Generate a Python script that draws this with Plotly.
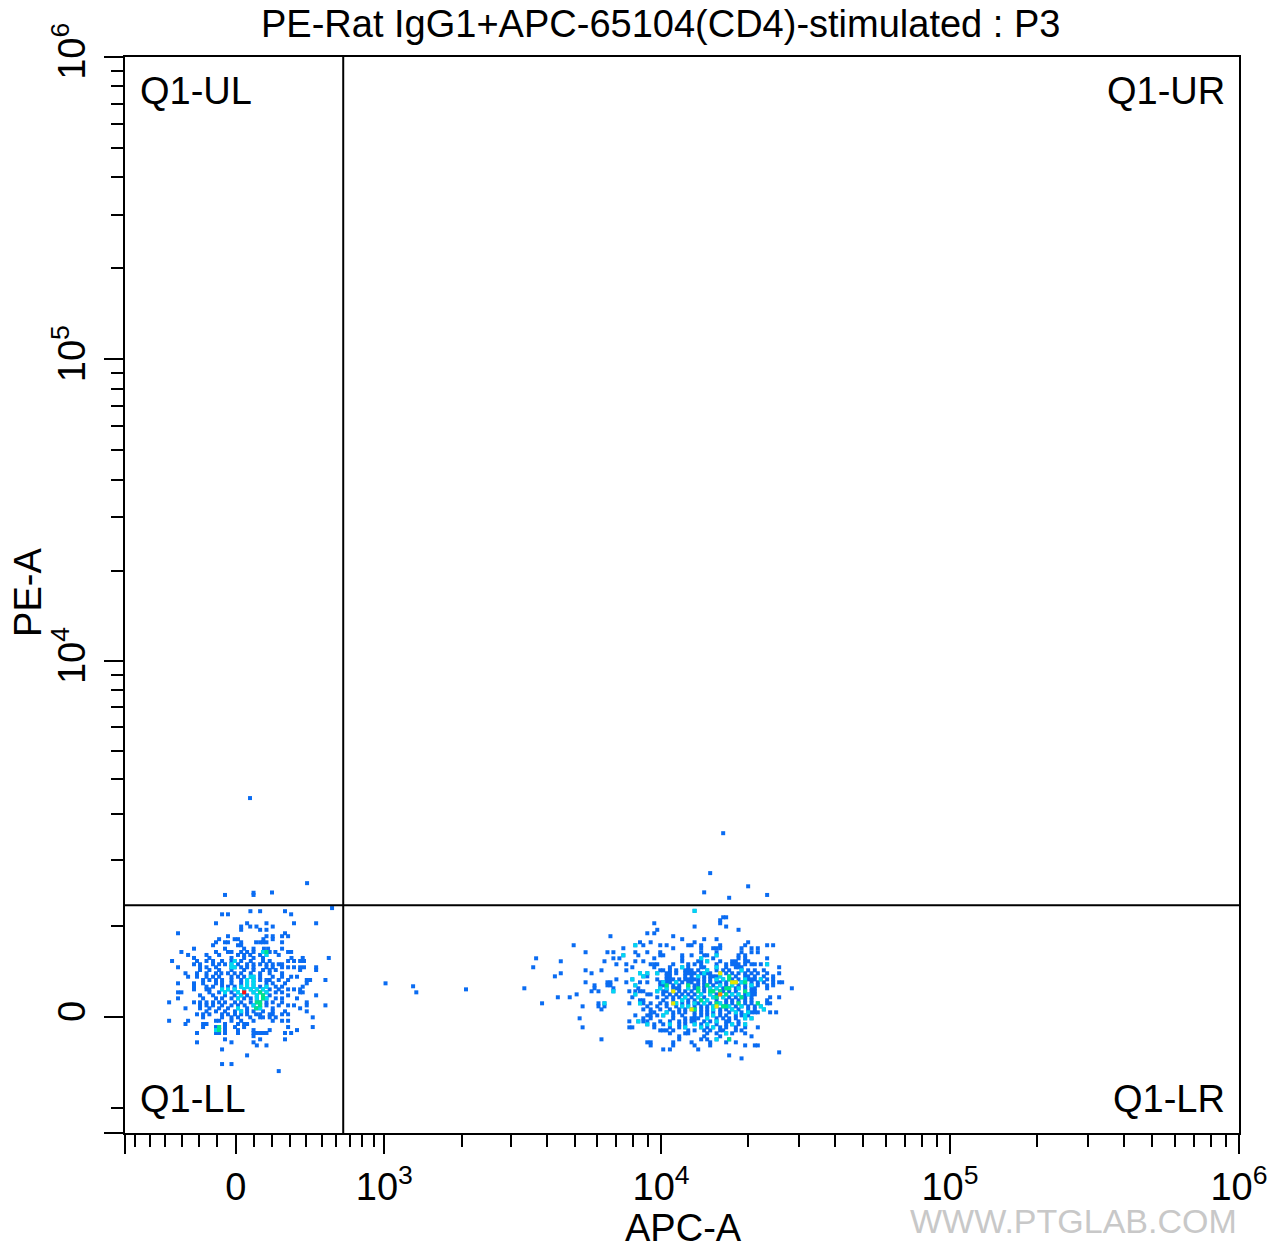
import numpy as np
import plotly.graph_objects as go

# ---------------- display scale (biexponential-like, arcsinh) ----------------
X_W = 676.0
Y_W = 1337.0


def tx(v):
    return np.arcsinh(np.asarray(v, dtype=float) / X_W)


def ty(v):
    return np.arcsinh(np.asarray(v, dtype=float) / Y_W)


X_MIN, X_MAX = -677, 1e6
Y_MIN, Y_MAX = -1340, 1e6
GATE_APC = 652
GATE_PE = 1282

title_text = "PE-Rat IgG1+APC-65104(CD4)-stimulated : P3"
x_title = "APC-A"
y_title = "PE-A"
quad_labels = ["Q1-UL", "Q1-UR", "Q1-LL", "Q1-LR"]

x_major_vals = [0, 1e3, 1e4, 1e5, 1e6]
x_major_text = ["0", "10<sup>3</sup>", "10<sup>4</sup>", "10<sup>5</sup>", "10<sup>6</sup>"]
y_major_vals = [0, 1e4, 1e5, 1e6]
y_major_text = ["0", "10<sup>4</sup>", "10<sup>5</sup>", "10<sup>6</sup>"]
x_minor_vals = ([-600, -500, -400, -300, -200, -100, 100, 200, 300, 400, 500, 600, 700, 800, 900]
                + [m * 10 ** e for e in (3, 4, 5) for m in range(2, 10)])
y_minor_vals = [-1000] + [m * 10 ** e for e in (3, 4, 5) for m in range(1 if e == 3 else 2, 10)]

# ---------------- events: Q1-UL / Q1-UR ----------------
ul_apc = [405, -58, 96, 96, 198, 77]
ul_pe = [1612, 1430, 1463, 1430, 1467, 3416]
ur_apc = [16411, 14795, 20026, 14103, 17212, 23296]
ur_pe = [2546, 1777, 1562, 1469, 1388, 1430]

# ---------------- events between the two populations ----------------
mid_apc = [1012, 1306, 1344, 2062]
mid_pe = [347, 316, 253, 284]

# ---------------- Q1-LL population (rows of PE-A, APC-A values per row) ----------------
ll_pe = [1241, 1198, 1156, 1038, 996, 955, 912, 876, 840, 803, 768, 728, 690, 656, 622, 588,
         552, 519, 489, 454, 417, 382, 347, 312, 284, 253, 222, 191, 150, 119, 89, 58, 28, -3,
         -38, -71, -102, -133, -163, -195, -228, -259, -291, -333, -396, -489, -566]
ll_apc = [
    [571],
    [79, 132, 272],
    [-74, -42, 308],
    [-107, 61, 167, 325, 463],
    [29, 78, 112, 202],
    [29, 132, 167],
    [-322, 272],
    [-42, 167, 202, 255, 290],
    [-90, -6, 12, 150, 202],
    [-107, -58, -42, 29, 110, 132, 148, 167, 255],
    [-123, 12, 29],
    [-229, -58, 45, 96, 153, 176, 255],
    [-302, -107, -42, -23, 29, 61, 96, 148, 167, 185, 217, 290, 308],
    [-263, -159, -90, 12, 45, 78, 132, 167, 236],
    [-229, -143, -23, 45, 96, 148, 310, 378, 548],
    [-358, -212, -159, -123, -74, -23, -6, 29, 81, 148, 185, 290, 325, 362, 386],
    [-229, -195, -123, -90, -58, -23, 12, 61, 96, 132, 167, 202, 236, 255],
    [-322, -195, -159, -107, -23, -6, 29, 61, 96, 167, 202, 255, 290, 325, 362, 386, 463],
    [-195, -143, -90, -23, 45, 96, 148, 185, 219, 362, 463],
    [-278, -212, -159, -107, -78, -42, -6, 29, 81, 132, 185, 255],
    [-263, -212, -159, -123, -90, -23, 12, 45, 81, 96, 132, 202, 255, 308, 343],
    [-178, -143, -107, -74, -23, 29, 61, 96, 132, 167, 185, 236, 290, 403, 424, 525],
    [-322, -229, -178, -107, -74, -23, 29, 61, 96, 167, 202, 272, 403],
    [-229, -159, -123, -74, -42, -6, 29, 61, 96, 132, 167, 219, 255, 378],
    [-229, -159, -143, -74, -42, -6, 45, 81, 114, 148, 185, 236, 290, 325, 362],
    [-322, -302, -143, -90, -58, -23, 12, 45, 96, 132, 167, 219, 255, 362, 378],
    [-195, -123, -58, -6, 29, 61, 114, 148, 185, 290, 463],
    [-322, -178, -107, -74, -23, 12, 45, 81, 114, 148, 167, 219, 255, 343],
    [-376, -229, -195, -159, -123, -90, -58, -4, 29, 81, 114, 132, 167, 202, 255, 403],
    [-195, -159, -123, -74, -23, 12, 48, 96, 132, 167, 236, 290, 325, 403, 525],
    [-278, -195, -143, -90, -42, 12, 61, 110, 132, 202, 362],
    [-159, -107, -58, -4, 29, 61, 96, 148, 202, 272, 403],
    [-212, -178, -143, -74, -42, -4, 29, 61, 110, 132, 185, 202, 255, 290],
    [-178, -74, -23, 12, 78, 132, 148, 185, 219, 441],
    [-376, -263, -107, -90, -23, 29, 96, 202, 255, 290],
    [-278, -178, -159, -58, 12, 45, 61],
    [-178, -107, -90, -58, -4, 45, 290, 441],
    [-107, -90, -58, 12, 96, 185, 343],
    [-212, -107, -90, -58, 12, 96, 114, 132, 148, 167, 272, 308],
    [96],
    [-58, 132, 272],
    [-212, -23, 96],
    [114, 167],
    [-74],
    [61],
    [-74, -23],
    [236],
]
ll_red_apc = [45]
ll_red_pe = [253]

# ---------------- Q1-LR population ----------------
lr_pe = [1203, 1116, 1077, 1038, 996, 955, 912, 876, 840, 803, 768, 733, 687, 652, 618, 585,
         552, 519, 486, 454, 421, 389, 358, 326, 295, 264, 232, 202, 171, 140, 109, 78, 48, 17,
         -13, -44, -74, -105, -136, -166, -197, -228, -259, -291, -333, -364, -396, -428]
lr_apc = [
    [13065],
    [16411, 16805],
    [16022],
    [9470, 16022],
    [13065, 16805],
    [9699, 18548],
    [8957, 9470],
    [6670, 11015],
    [11835, 14103, 15568],
    [8450, 9201, 13065, 20026],
    [4966, 8140, 8677, 9933, 10452, 12417, 12756, 13769, 16022, 19553, 23296, 24438],
    [7396, 11015, 13769, 15153, 15568, 16022, 18998, 20573, 21632],
    [5465, 6512, 6830, 8140, 8957, 9933, 13769, 15568, 18998, 20573, 21632],
    [7396, 8336, 9933, 10172, 11835, 12756, 14103, 14445, 15568, 18548, 19553],
    [3668, 6830, 7166, 9470, 11835, 13769, 15153, 18548, 19553, 23296],
    [4477, 6359, 8140, 8677, 11835, 13446, 13769, 14445, 16022, 17629, 18155, 19553, 20026],
    [6996, 7575, 9201, 9470, 9699, 11015, 12417, 13065, 13769, 15568, 16805, 17629, 18155,
     18548, 19553, 20573, 21120, 22156, 23296],
    [3583, 7947, 9470, 10730, 11835, 12417, 13769, 14103, 15568, 16805, 18155, 18548, 18998, 25640],
    [5465, 6208, 7575, 9933, 10172, 10730, 11282, 12122, 12417, 12756, 13446, 14445, 15568,
     16411, 17212, 18998, 20026, 21120, 22692],
    [4477, 5733, 8450, 8957, 9699, 10452, 10730, 11282, 12122, 12417, 12756, 13065, 13769,
     14103, 14445, 14795, 16022, 16805, 17629, 18548, 19553, 20573, 21632, 23296, 25640],
    [4269, 8677, 8957, 10452, 10730, 12122, 12756, 13446, 14103, 14795, 15153, 15568, 16022,
     17212, 18155, 19553, 20026, 21120, 22692, 24438],
    [6996, 7947, 9699, 10452, 10730, 11015, 11555, 12122, 12417, 12756, 13065, 13446, 14103,
     14795, 15568, 16411, 17212, 17629, 18548, 19553, 20026, 20573, 21120, 22156, 23296, 24438],
    [5465, 6512, 6670, 7575, 8450, 8957, 9933, 10172, 10452, 10730, 11282, 11835, 12417, 12756,
     13446, 14103, 14795, 15568, 16022, 16805, 17629, 18155, 18998, 19553, 20573, 21632, 22692,
     24438, 25640, 26260],
    [5872, 6512, 6670, 8140, 9933, 10172, 10452, 11015, 11555, 12417, 13065, 13446, 14103,
     14445, 15153, 16022, 16805, 17629, 18548, 19553, 20573, 21632, 23296, 24438],
    [3334, 5872, 6830, 8336, 9933, 10452, 11015, 11282, 11555, 12417, 13065, 13446, 14103,
     14795, 15568, 16411, 16805, 17212, 18155, 18548, 19553, 20573, 21120, 23296, 28367],
    [5733, 6061, 6830, 7759, 8140, 8450, 8677, 9699, 10172, 10452, 11015, 11555, 12122, 12756,
     13446, 14103, 14795, 15153, 16022, 16411, 17212, 18155, 19553, 20573, 21120],
    [5086, 8140, 8957, 9201, 10172, 10730, 11282, 11835, 12417, 13065, 13769, 14795, 15568,
     16022, 16805, 17629, 18548, 19553, 20026, 20573, 21120],
    [4372, 4811, 7947, 9699, 10452, 11015, 11555, 12122, 12756, 13446, 14103, 15153, 15568,
     16411, 17212, 18155, 18998, 19553, 20573, 23860, 25640],
    [8450, 8677, 10172, 11015, 11835, 12417, 13065, 13769, 14445, 15568, 16805, 17629, 18548,
     19553, 20573, 23296],
    [3849, 6061, 6359, 7759, 8450, 8677, 9201, 9933, 10452, 11015, 11282, 11835, 12417, 13065,
     13446, 14103, 14795, 15568, 16022, 16805, 17629, 18548, 19553, 20573, 21632, 23296, 23860],
    [5336, 6061, 6359, 8957, 9699, 10452, 11282, 11835, 12417, 13065, 13769, 14445, 15153,
     15568, 16411, 16805, 17212, 18155, 18998, 20026, 21120, 22156],
    [6208, 8677, 9201, 9933, 10730, 11555, 12122, 12756, 13065, 13769, 14445, 15153, 16022,
     16805, 17629, 18548, 20026, 21120, 22692],
    [9201, 9470, 10452, 11015, 11555, 12122, 13065, 13769, 14445, 15153, 16022, 17212, 18155,
     18998, 20026, 20573, 21120, 21632, 23860, 25030],
    [8140, 8957, 9201, 9699, 10172, 11015, 11835, 13065, 13769, 14445, 15153, 16022, 16805,
     18155, 18998, 19553, 20026],
    [5210, 8677, 9201, 11015, 12122, 12756, 13065, 13446, 14445, 15568, 16411, 17212, 18155,
     19553, 20573],
    [7759, 8336, 8677, 8957, 9933, 10730, 11555, 12122, 12756, 13065, 14103, 14795, 15568,
     16805, 17212, 18548],
    [8957, 9470, 10172, 10730, 11555, 12122, 13065, 13769, 14445, 15568, 16805, 17629, 18548, 19553],
    [5336, 7759, 7947, 9470, 10730, 11555, 12122, 13769, 14445, 15153, 16022, 16805, 18155,
     19553, 21632],
    [9933, 10172, 10452, 11015, 12417, 13065, 14103, 14795, 16022, 16411, 18155, 18998],
    [10730, 12122, 12417, 14445, 15568, 16805, 17629, 19553],
    [11555, 14103, 16022, 20573],
    [6208, 11555, 13769, 14445, 15568, 17212],
    [8957, 9201, 11015, 12756, 14795, 16805, 18155],
    [9201, 11015, 13065, 14795, 19553, 21120, 21632],
    [10172, 10730, 13446],
    [25640],
    [17212],
    [18998],
]

# ---------------- Q1-LR events by density level (pseudocolour) ----------------
lr_cyan_apc = [13065, 15568, 13769, 14445, 23296, 11835, 15568, 14445, 18998,
               8450, 8957, 9699, 14103, 8677, 13446, 16022,
               15568, 16411, 19553, 22156, 10172, 11282, 18998,
               16022, 17629, 20573, 9933, 10452, 12417, 14795, 15568, 18548,
               9699, 13769, 14795, 17629, 18548, 20026,
               12122, 13446, 15153, 16411, 11835, 14445,
               8450, 11282, 13065, 14103, 16022,
               11835, 12417, 15153, 17212, 18998, 22156,
               15153, 17629, 22692, 10452, 18155, 20026,
               10172, 15153, 19553, 14445, 19553, 20573, 15568,
               8957, 10730, 13065, 14445, 17629, 19553,
               12122, 13769, 15153, 16805, 15568,
               8140, 7396, 7947, 8140, 6830, 8140, 6359, 8336]
lr_cyan_pe = [1203, 652, 618, 585, 552, 519, 519, 486, 486,
              454, 454, 454, 454, 421, 421, 421,
              389, 389, 389, 389, 358, 358, 358,
              326, 326, 326, 295, 295, 295, 295, 295, 295,
              264, 232, 232, 232, 232, 232,
              202, 202, 202, 202, 171, 171,
              140, 140, 140, 140, 140,
              109, 109, 109, 109, 109, 109,
              78, 78, 78, 48, 48, 48,
              17, 17, 17, -13, -13, -13, -44,
              -74, -74, -74, -74, -74, -74,
              -105, -105, -105, -166, -228,
              768, 652, 389, 326, 264, 232, 140, -44]
lr_green_apc = [17212, 17212, 19553, 10452, 12417, 14445, 13446, 16805, 17212,
                13446, 14795, 15153, 16022, 19553, 16805, 15568, 18998, 13769,
                15568, 18548, 21632, 16411, 16805, 13065, 17212]
lr_green_pe = [421, 389, 358, 326, 326, 326, 295, 295, 295,
               264, 264, 264, 264, 264, 232, 202, 202, 171,
               140, 140, 140, 109, 109, 78, -228]
lr_yellow_apc = [16022, 17629, 18155, 11015, 11015, 15568, 12756]
lr_yellow_pe = [454, 358, 358, 264, 140, 109, 78]
lr_orange_apc = [16022]
lr_orange_pe = [232]


# ---------------- assemble events ----------------
def flatten(rows_pe, rows_apc):
    xs, ys = [], []
    for p, row in zip(rows_pe, rows_apc):
        xs += list(row)
        ys += [p] * len(row)
    return np.array(xs, dtype=float), np.array(ys, dtype=float)


ll_x, ll_y = flatten(ll_pe, ll_apc)
lr_x, lr_y = flatten(lr_pe, lr_apc)
apc = np.concatenate([ul_apc, ur_apc, mid_apc, ll_x, lr_x]).astype(float)
pe = np.concatenate([ul_pe, ur_pe, mid_pe, ll_y, lr_y]).astype(float)

X0, X1 = float(tx(X_MIN)), float(tx(X_MAX))
Y0, Y1 = float(ty(Y_MIN)), float(ty(Y_MAX))

BLUE, CYAN, GREEN, YELLOW, ORANGE, RED = "#0a6cf2", "#00d8f0", "#00e48a", "#e6e600", "#ff8a00", "#ff1010"

# Q1-LL pseudocolour from local event density (display space)
W_PX, H_PX = 1114.0, 1076.0
dx = (tx(ll_x) - X0) / (X1 - X0) * W_PX
dy = (ty(ll_y) - Y0) / (Y1 - Y0) * H_PX
d2 = (dx[:, None] - dx[None, :]) ** 2 + (dy[:, None] - dy[None, :]) ** 2
dens = np.exp(-d2 / (2 * 4.0 ** 2)).sum(axis=1)
rank = np.argsort(np.argsort(dens, kind="stable"), kind="stable") / (len(dens) - 1)
ll_level = np.searchsorted([0.88, 0.975], rank, side="right")


def add_pts(xv, yv, color):
    if len(xv) == 0:
        return
    fig.add_trace(go.Scatter(
        x=tx(xv), y=ty(yv), mode="markers",
        marker=dict(symbol="square", size=4, color=color, line=dict(width=0)),
        hoverinfo="skip", showlegend=False,
    ))


fig = go.Figure()
add_pts(apc, pe, BLUE)
for lev, col in ((1, CYAN), (2, GREEN)):
    m = ll_level == lev
    add_pts(ll_x[m], ll_y[m], col)
add_pts(ll_red_apc, ll_red_pe, RED)
add_pts(lr_cyan_apc, lr_cyan_pe, CYAN)
add_pts(lr_green_apc, lr_green_pe, GREEN)
add_pts(lr_yellow_apc, lr_yellow_pe, YELLOW)
add_pts(lr_orange_apc, lr_orange_pe, ORANGE)

# quadrant gate lines
fig.add_shape(type="line", xref="x", yref="y", x0=float(tx(GATE_APC)), x1=float(tx(GATE_APC)),
              y0=Y0, y1=Y1, line=dict(color="black", width=2))
fig.add_shape(type="line", xref="x", yref="y", x0=X0, x1=X1,
              y0=float(ty(GATE_PE)), y1=float(ty(GATE_PE)), line=dict(color="black", width=2))

FONT = "Liberation Sans, Arial, sans-serif"
FS = 38

axis_common = dict(
    showgrid=False, zeroline=False, showline=True, linecolor="black", linewidth=2,
    mirror=True, ticks="outside", ticklen=19, tickwidth=2, tickcolor="black",
    tickfont=dict(family=FONT, size=FS, color="black"),
)

fig.update_xaxes(
    range=[X0, X1],
    tickmode="array",
    tickvals=[X0] + list(tx(x_major_vals)),
    ticktext=[" "] + x_major_text,
    minor=dict(tickvals=list(tx(x_minor_vals)), ticks="outside", ticklen=12, tickwidth=2,
               tickcolor="black", showgrid=False),
    ticklabelstandoff=0,
    **axis_common,
)
fig.update_yaxes(
    range=[Y0, Y1],
    tickmode="array",
    tickvals=[Y0] + list(ty(y_major_vals)),
    ticktext=[" "] + y_major_text,
    tickangle=-90,
    minor=dict(tickvals=list(ty(y_minor_vals)), ticks="outside", ticklen=12, tickwidth=2,
               tickcolor="black", showgrid=False),
    ticklabelstandoff=4,
    **axis_common,
)

ann = [
    dict(text=title_text, x=0.481, y=1.0307, xref="paper", yref="paper",
         xanchor="center", yanchor="middle", showarrow=False,
         font=dict(family=FONT, size=FS, color="black")),
    dict(text=x_title, x=0.501, y=-0.0883, xref="paper", yref="paper",
         xanchor="center", yanchor="middle", showarrow=False,
         font=dict(family=FONT, size=FS, color="black")),
    dict(text=y_title, x=-0.087, y=0.502, xref="paper", yref="paper", textangle=-90,
         xanchor="center", yanchor="middle", showarrow=False,
         font=dict(family=FONT, size=FS, color="black")),
    dict(text=quad_labels[0], x=0.0115, y=0.9684, xref="paper", yref="paper",
         xanchor="left", yanchor="middle", showarrow=False,
         font=dict(family=FONT, size=FS, color="black")),
    dict(text=quad_labels[1], x=0.9893, y=0.9684, xref="paper", yref="paper",
         xanchor="right", yanchor="middle", showarrow=False,
         font=dict(family=FONT, size=FS, color="black")),
    dict(text=quad_labels[2], x=0.0115, y=0.0316, xref="paper", yref="paper",
         xanchor="left", yanchor="middle", showarrow=False,
         font=dict(family=FONT, size=FS, color="black")),
    dict(text=quad_labels[3], x=0.9893, y=0.0316, xref="paper", yref="paper",
         xanchor="right", yanchor="middle", showarrow=False,
         font=dict(family=FONT, size=FS, color="black")),
    dict(text="WWW.PTGLAB.COM", x=1.0, y=-0.0815, xref="paper", yref="paper",
         xanchor="right", yanchor="middle", showarrow=False,
         font=dict(family=FONT, size=34, color="#c8c8c8")),
]

fig.update_layout(
    width=1287, height=1250,
    margin=dict(l=125, r=48, t=57, b=117),
    plot_bgcolor="white", paper_bgcolor="white",
    annotations=ann,
    showlegend=False,
)

fig.write_html(
    "out.html",
    config={"displayModeBar": False},
    post_script="document.body.style.margin='0px';document.body.style.overflow='hidden';",
)
